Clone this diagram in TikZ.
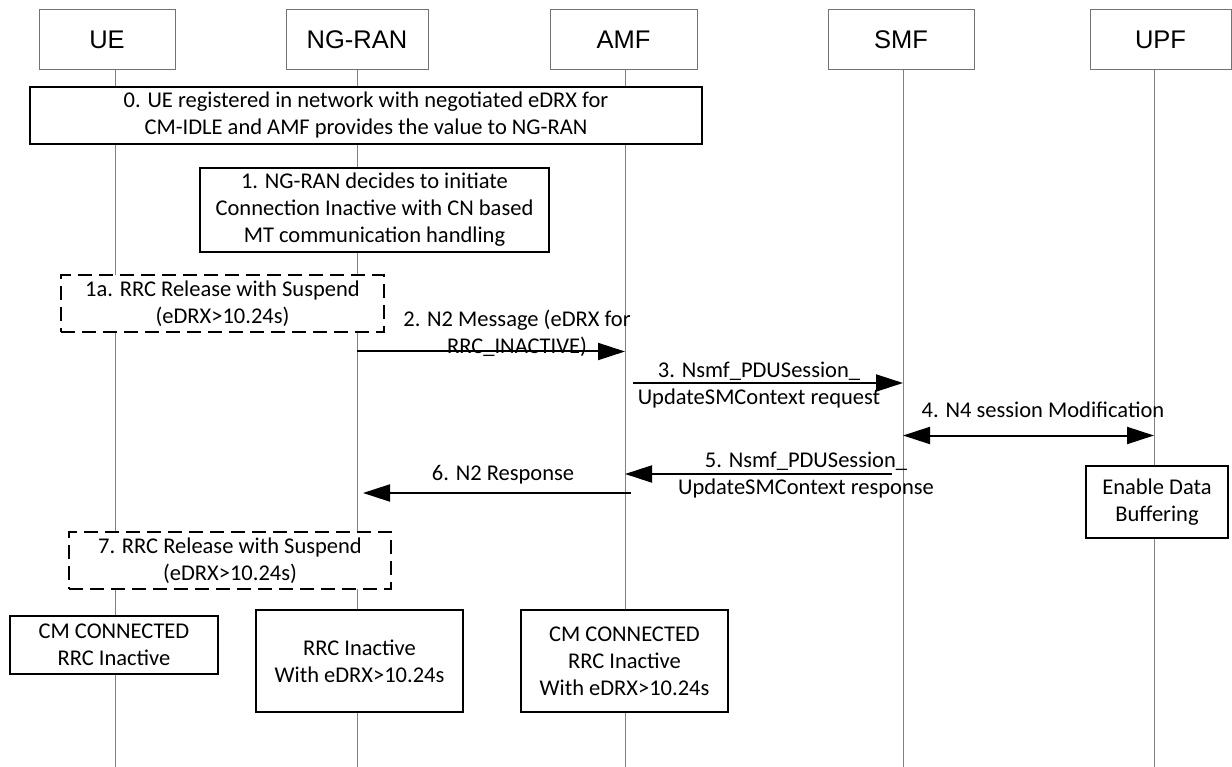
\documentclass[tikz,border=0pt]{standalone}
\usepackage{fontspec}
\setmainfont{Carlito}
\newfontfamily\hdrfont{Liberation Sans}
\usetikzlibrary{arrows.meta}
\newcommand\lblsize{\fontsize{22.5}{27}\selectfont}
\begin{document}
\begin{tikzpicture}[x=1pt,y=-1pt,
  hdr/.style={draw=black!55, line width=0.9pt, fill=white, minimum height=60pt, inner sep=0pt, font=\hdrfont\fontsize{25.5}{30}\selectfont},
  life/.style={draw=black!50, line width=0.9pt},
  sbox/.style={draw=black, line width=1.8pt, fill=white, inner sep=0pt, align=center, font=\lblsize},
  dbox/.style={sbox, dash pattern=on 14pt off 7pt},
  lbl/.style={inner sep=0pt, align=center, font=\lblsize},
  msg/.style={line width=2pt, -{Triangle[length=27pt,width=17pt]}},
  msgb/.style={line width=2pt, {Triangle[length=27pt,width=17pt]}-{Triangle[length=27pt,width=17pt]}}
]
\useasboundingbox (0,0) rectangle (1232,767);
\fill[white] (0,0) rectangle (1232,767);

% lifeline x positions
\coordinate (lUE) at (115,0);
\coordinate (lRAN) at (357,0);
\coordinate (lAMF) at (625,0);
\coordinate (lSMF) at (903,0);
\coordinate (lUPF) at (1154,0);

% header boxes
\node[hdr, minimum width=136pt] (ue) at (107,39.5) {UE};
\node[hdr, minimum width=142pt] (ran) at (357,39.5) {NG-RAN};
\node[hdr, minimum width=147pt] (amf) at (623.5,39.5) {AMF};
\node[hdr, minimum width=146pt] (smf) at (901,39.5) {SMF};
\node[hdr, minimum width=141pt] (upf) at (1160.5,39.5) {UPF};

% lifelines
\draw[life] (lUE |- ue.south) -- (lUE |- 0,767);
\draw[life] (lRAN |- ran.south) -- (lRAN |- 0,767);
\draw[life] (lAMF |- amf.south) -- (lAMF |- 0,767);
\draw[life] (lSMF |- smf.south) -- (lSMF |- 0,767);
\draw[life] (lUPF |- upf.south) -- (lUPF |- 0,767);

% boxes
\node[sbox, line width=2pt, minimum width=672pt, minimum height=57pt] (s0) at (366,115.5)
  {0. UE registered in network with negotiated eDRX for\\CM-IDLE and AMF provides the value to NG-RAN};
\node[sbox, line width=1.5pt, minimum width=349pt, minimum height=84pt] (s1) at (374.5,210)
  {1. NG-RAN decides to initiate\\Connection Inactive with CN based\\MT communication handling};
\node[dbox, minimum width=323pt, minimum height=57pt] (s1a) at (222.5,303.5)
  {1a. RRC Release with Suspend\\(eDRX>10.24s)};
\node[dbox, minimum width=322pt, minimum height=57pt] (s7) at (230,560.5)
  {7. RRC Release with Suspend\\(eDRX>10.24s)};
\node[sbox, line width=1.5pt, minimum width=142pt, minimum height=72pt] (buf) at (1157,502)
  {Enable Data\\Buffering};
\node[sbox, line width=1.5pt, minimum width=208pt, minimum height=58pt] (fue) at (114,645)
  {CM CONNECTED\\RRC Inactive};
\node[sbox, line width=1.5pt, minimum width=207pt, minimum height=102pt] (fran) at (359.5,661)
  {RRC Inactive\\With eDRX>10.24s};
\node[sbox, line width=1.5pt, minimum width=207pt, minimum height=102pt] (famf) at (624.5,661)
  {CM CONNECTED\\RRC Inactive\\With eDRX>10.24s};

% messages
\draw[msg] (lRAN |- 0,351.5) -- (lAMF |- 0,351.5);
\node[lbl] (t2) at (517,333) {2. N2 Message (eDRX for\\RRC\_INACTIVE)};

\draw[msg] ([xshift=8pt]lAMF |- 0,383) -- (lSMF |- 0,383);
\node[lbl] (t3) at (759,385) {3. Nsmf\_PDUSession\_\\UpdateSMContext request};

\draw[msgb] (lSMF |- 0,435.5) -- (lUPF |- 0,435.5);
\node[lbl] (t4) at (1043,410) {4. N4 session Modification};

\draw[msg] ([xshift=-11pt]lSMF |- 0,474) -- (lAMF |- 0,474);
\node[lbl] (t5) at (806,475) {5. Nsmf\_PDUSession\_\\UpdateSMContext response};

\draw[msg] ([xshift=6pt]lAMF |- 0,493) -- ([xshift=6pt]lRAN |- 0,493);
\node[lbl] (t6) at (503,475) {6. N2 Response};
\end{tikzpicture}
\end{document}
